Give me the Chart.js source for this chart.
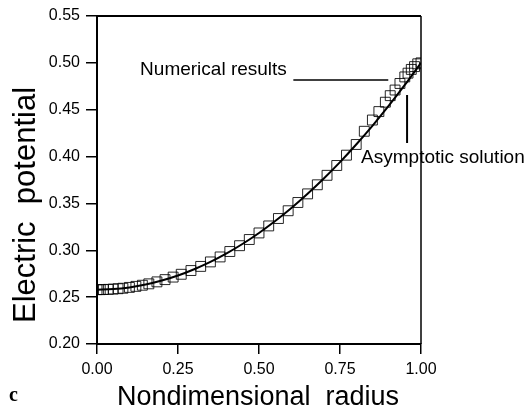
<!DOCTYPE html>
<html>
<head>
<meta charset="utf-8">
<title>Electric potential</title>
<script src="https://cdn.jsdelivr.net/npm/chart.js@4/dist/chart.umd.min.js"></script>
<style>
  body { margin: 0; background: #fff; }
</style>
</head>
<body>
<canvas id="potChart" width="529" height="409"></canvas>
<script>
// asymptotic solution (solid line)
var lineRadius = [0, 0.05, 0.1, 0.15, 0.2, 0.25, 0.3, 0.35, 0.4, 0.45, 0.5,
                  0.55, 0.6, 0.65, 0.7, 0.75, 0.8, 0.85, 0.9, 0.95, 1.0];
var linePotential = [0.258, 0.2586, 0.2604, 0.2634, 0.2677, 0.2731, 0.2798, 0.2876, 0.2967, 0.3070, 0.3185,
                     0.3312, 0.3451, 0.3603, 0.3766, 0.3941, 0.4129, 0.4328, 0.4540, 0.4764, 0.500];

// numerical results (open squares)
var numRadius = [0, 0.01, 0.02, 0.035, 0.05, 0.065, 0.08, 0.1, 0.12, 0.14, 0.16, 0.185,
                 0.21, 0.235, 0.26, 0.29, 0.32, 0.35, 0.38, 0.41, 0.44, 0.47, 0.5,
                 0.53, 0.56, 0.59, 0.62, 0.65, 0.68, 0.71, 0.74, 0.77, 0.8, 0.825,
                 0.85, 0.87, 0.89, 0.905, 0.92, 0.935, 0.95, 0.96, 0.97, 0.98, 0.99, 1.0];
var numPotential = [0.258, 0.258, 0.2581, 0.2583, 0.2586, 0.259, 0.2595, 0.2604, 0.2615, 0.2627, 0.2642, 0.2663,
                    0.2687, 0.2714, 0.2744, 0.2784, 0.2828, 0.2876, 0.2929, 0.2987, 0.3049, 0.3115, 0.3185,
                    0.326, 0.3339, 0.3422, 0.351, 0.3602, 0.3699, 0.38, 0.3905, 0.4015, 0.4129, 0.427,
                    0.439, 0.448, 0.458, 0.465, 0.471, 0.478, 0.485, 0.489, 0.493, 0.496, 0.499, 0.500];

var xTicks = [0, 0.25, 0.5, 0.75, 1.0];
var yTicks = [0.20, 0.25, 0.30, 0.35, 0.40, 0.45, 0.50, 0.55];

function pairs(xs, ys) {
  return xs.map(function (x, i) { return { x: x, y: ys[i] }; });
}

var FONT = "'Liberation Sans', Arial, sans-serif";

// frame, labels, annotations
var decor = {
  id: 'decor',
  afterDraw: function (chart) {
    var ctx = chart.ctx;
    var a = chart.chartArea;
    var xs = chart.scales.x, ys = chart.scales.y;
    ctx.save();
    ctx.strokeStyle = '#000';
    // top and right border
    ctx.lineWidth = 2;
    ctx.beginPath();
    ctx.moveTo(a.left, a.top);
    ctx.lineTo(a.right, a.top);
    ctx.stroke();
    ctx.lineWidth = 1.5;
    ctx.beginPath();
    ctx.moveTo(a.right, a.top);
    ctx.lineTo(a.right, a.bottom);
    ctx.stroke();

    // annotations
    ctx.fillStyle = '#000';
    ctx.font = '19px ' + FONT;
    ctx.textBaseline = 'middle';
    ctx.textAlign = 'left';
    ctx.fillText('Numerical results', xs.getPixelForValue(0.133), ys.getPixelForValue(0.4924));
    ctx.lineWidth = 1.5;
    ctx.beginPath();
    ctx.moveTo(xs.getPixelForValue(0.606), ys.getPixelForValue(0.4817));
    ctx.lineTo(xs.getPixelForValue(0.899), ys.getPixelForValue(0.4817));
    ctx.stroke();
    ctx.lineWidth = 2;
    ctx.beginPath();
    ctx.moveTo(xs.getPixelForValue(0.957), ys.getPixelForValue(0.4657));
    ctx.lineTo(xs.getPixelForValue(0.957), ys.getPixelForValue(0.4145));
    ctx.stroke();
    ctx.fillText('Asymptotic solution', xs.getPixelForValue(0.815), ys.getPixelForValue(0.3985));

    // axis titles
    ctx.font = '27px ' + FONT;
    ctx.textAlign = 'center';
    ctx.textBaseline = 'alphabetic';
    ctx.fillText('Nondimensional  radius', 258, 405);
    ctx.save();
    ctx.translate(35, 205);
    ctx.rotate(-Math.PI / 2);
    ctx.font = '31px ' + FONT;
    ctx.fillText('Electric  potential', 0, 0);
    ctx.restore();

    ctx.font = 'bold 20px "Liberation Serif", serif';
    ctx.textAlign = 'left';
    ctx.fillText('c', 9, 401);
    ctx.restore();
  }
};

new Chart(document.getElementById('potChart'), {
  type: 'scatter',
  data: {
    datasets: [
      {
        label: 'Asymptotic solution',
        data: pairs(lineRadius, linePotential),
        showLine: true,
        borderColor: '#000',
        borderWidth: 2,
        pointRadius: 0,
        tension: 0.3,
        order: 0
      },
      {
        label: 'Numerical results',
        data: pairs(numRadius, numPotential),
        pointStyle: 'rect',
        pointRadius: 7,
        borderColor: 'rgba(0,0,0,0.85)',
        backgroundColor: 'rgba(0,0,0,0)',
        borderWidth: 1,
        order: 1
      }
    ]
  },
  options: {
    responsive: false,
    animation: false,
    layout: { padding: { top: 16, right: 108, left: 0, bottom: 0 } },
    plugins: {
      legend: { display: false },
      tooltip: { enabled: false }
    },
    scales: {
      x: {
        type: 'linear',
        min: 0,
        max: 1,
        afterBuildTicks: function (s) { s.ticks = xTicks.map(function (v) { return { value: v }; }); },
        afterFit: function (s) { s.height = 65; },
        grid: { drawOnChartArea: false, tickLength: 10, color: '#000', lineWidth: 1.5 },
        border: { color: '#000', width: 2 },
        ticks: {
          color: '#000',
          padding: 6,
          maxRotation: 0,
          font: { family: FONT, size: 16 },
          callback: function (v) { return v.toFixed(2); }
        }
      },
      y: {
        type: 'linear',
        min: 0.2,
        max: 0.55,
        afterBuildTicks: function (s) { s.ticks = yTicks.map(function (v) { return { value: v }; }); },
        afterFit: function (s) { s.width = 97; },
        grid: { drawOnChartArea: false, tickLength: 11, color: '#000', lineWidth: 1.5 },
        border: { color: '#000', width: 2 },
        ticks: {
          color: '#000',
          padding: 6,
          font: { family: FONT, size: 16 },
          callback: function (v) { return v.toFixed(2); }
        }
      }
    }
  },
  plugins: [decor]
});
</script>
</body>
</html>
